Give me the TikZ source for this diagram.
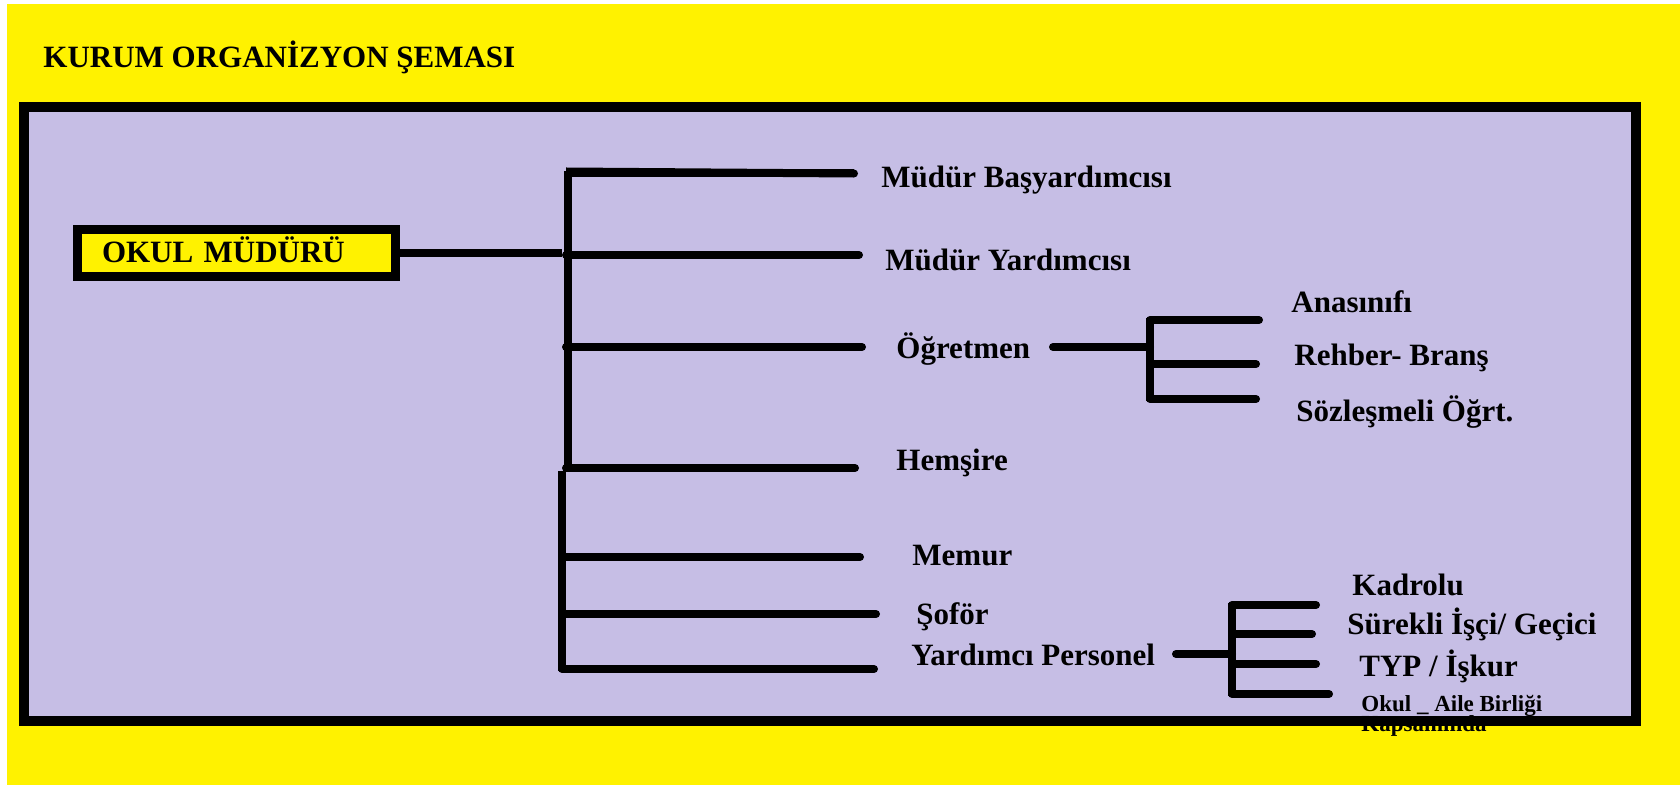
\documentclass[tikz,border=0pt]{standalone}
\usepackage{fontspec}
\setmainfont{Liberation Serif}
\definecolor{bgyellow}{HTML}{FFF200}
\definecolor{lav}{HTML}{C6BEE5}
\begin{document}
\begin{tikzpicture}[x=0.5pt,y=-0.5pt,
  lbl/.style={anchor=west,inner sep=0pt,font=\fontsize{15.5}{18}\selectfont\bfseries},
  small/.style={anchor=base west,inner sep=0pt,font=\fontsize{11.5}{13}\selectfont\bfseries},
  br/.style={line width=4pt,line cap=round},
  trunk/.style={line width=4pt,line cap=butt},
  frame/.style={line width=4.75pt}]
\useasboundingbox (0,0) rectangle (1680,785);
\fill[white] (0,0) rectangle (1680,785);
\fill[bgyellow] (7,4) rectangle (1680,785);
\fill[lav] (24,107) rectangle (1636,721);
\node[small] (kap) at (1361,731) {Kapsamında};
\draw[frame] (24,107) rectangle (1636,721);

% title
\node[lbl] (title) at (43,57) {KURUM ORGANİZYON ŞEMASI};

% root box
\node[draw,fill=bgyellow,line width=4.5pt,minimum width=159pt,minimum height=23.5pt,
      inner xsep=12.25pt,inner ysep=0pt,text width=134.5pt,align=left,anchor=center,
      font=\fontsize{15.5}{18}\selectfont\bfseries] (om) at (236.5,253) {\raisebox{3pt}{OKUL MÜDÜRÜ}};

% trunk coordinates
\coordinate (j0) at (562,253);
\coordinate (tu) at (568,171);
\coordinate (tm) at (568,471);
\coordinate (tmb) at (562,471);
\coordinate (tb) at (562,671);
\draw[br,line cap=butt] (om.east) -- (j0);
\draw[trunk] (tu) -- (tm);
\draw[trunk] (tmb) -- (tb);

% labels
\node[lbl] (mby) at (881,180) {Müdür Başyardımcısı};
\node[lbl] (my)  at (885,260) {Müdür Yardımcısı};
\node[lbl] (ogr) at (896,349) {Öğretmen};
\node[lbl] (hem) at (896,463) {Hemşire};
\node[lbl] (mem) at (912,556) {Memur};
\node[lbl] (sof) at (916,617) {Şoför};
\node[lbl] (yp)  at (911,655) {Yardımcı Personel};

% branch ends
\coordinate (b1s) at (566,173.5); \coordinate (b1e) at (854,173.5);
\coordinate (b2s) at (566,255);   \coordinate (b2e) at (859,255);
\coordinate (b3s) at (566,347);   \coordinate (b3e) at (862,347);
\coordinate (b4s) at (566,468);   \coordinate (b4e) at (855,468);
\coordinate (b5s) at (562,557);   \coordinate (b5e) at (860,557);
\coordinate (b6s) at (562,614);   \coordinate (b6e) at (876,614);
\coordinate (b7s) at (562,669);   \coordinate (b7e) at (874,669);
\draw[br,line cap=butt] (b1s) -- (b1e);
\draw[br] (b1e) -- (b1e);
\foreach \i in {2,...,7}{\draw[br] (b\i s) -- (b\i e);}
\draw[trunk] (566,171.5) -- (b1e);

% teacher sub-tree
\node[lbl] (ana) at (1291,302) {Anasınıfı};
\node[lbl] (reh) at (1294,358) {Rehber- Branş};
\node[lbl] (soz) at (1296,412) {Sözleşmeli Öğrt.};
\coordinate (o0) at (1053,347);
\coordinate (o1) at (1150,347);
\coordinate (ot) at (1150,320);
\coordinate (ob) at (1150,399);
\coordinate (oa) at (1259,320);
\coordinate (orr) at (1256,364);
\coordinate (os) at (1256,399);
\draw[br] (o0) -- (o1);
\draw[trunk] (1150,318) -- (1150,401);
\draw[br] (ot) -- (oa);
\draw[br] (1150,364) -- (orr);
\draw[br] (ob) -- (os);

% staff sub-tree
\node[lbl] (kad) at (1352,585) {Kadrolu};
\node[lbl] (sur) at (1347,624) {Sürekli İşçi/ Geçici};
\node[lbl] (typ) at (1359,666) {TYP / İşkur};
\node[small] (oab) at (1361,711) {Okul \_ Aile Birliği};
\coordinate (p0) at (1176,654);
\coordinate (p1) at (1232,654);
\coordinate (pt) at (1232,605);
\coordinate (pb) at (1232,694);
\draw[br] (p0) -- (p1);
\draw[trunk] (1232,603) -- (1232,696);
\draw[br] (pt) -- (1316,605);
\draw[br] (1232,634) -- (1312,634);
\draw[br] (1232,664) -- (1316,664);
\draw[br] (pb) -- (1329,694);
\end{tikzpicture}
\end{document}
